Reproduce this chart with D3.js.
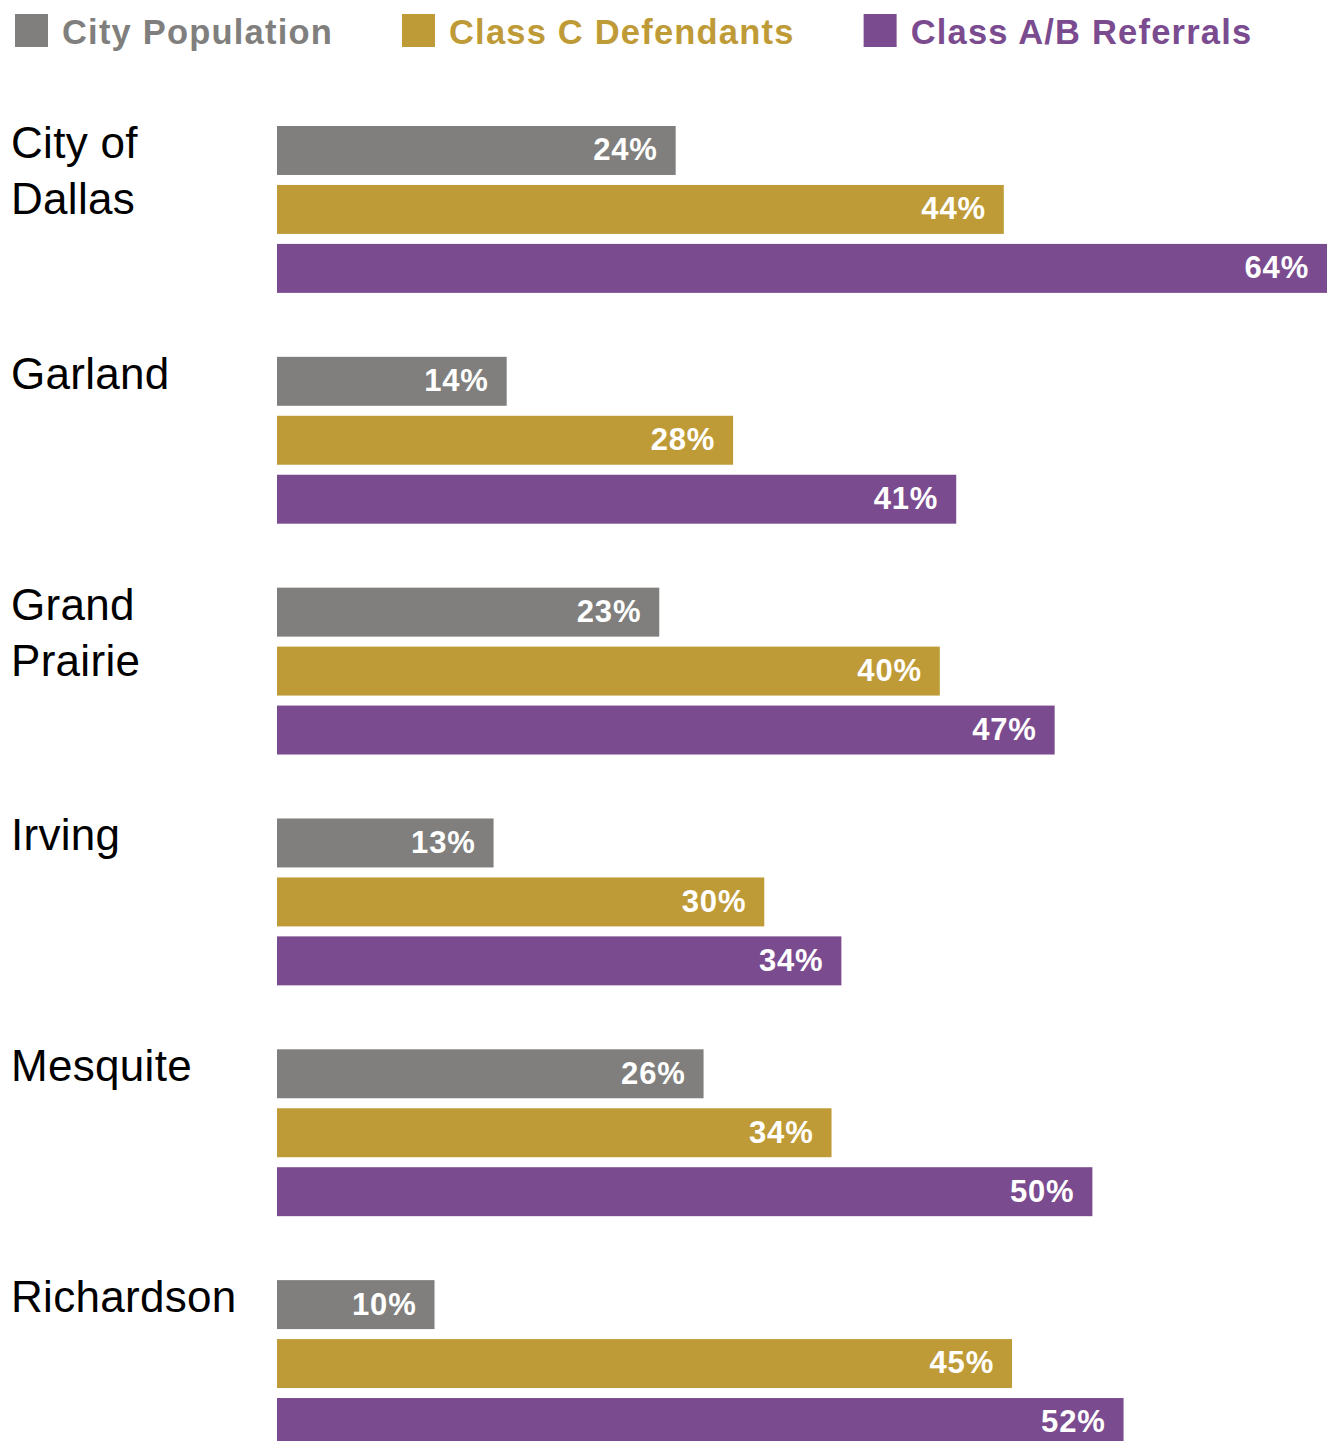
<!DOCTYPE html>
<html>
<head>
<meta charset="utf-8">
<script src="https://cdn.jsdelivr.net/npm/d3@7"></script>
<style>
  body { margin: 0; background: #fff; }
  svg { display: block; }
</style>
</head>
<body>
<div id="chart"></div>
<script>
// data (percent)
const cities = ['City of Dallas', 'Garland', 'Grand Prairie', 'Irving', 'Mesquite', 'Richardson']
const cityLines = [['City of', 'Dallas'], ['Garland'], ['Grand', 'Prairie'], ['Irving'], ['Mesquite'], ['Richardson']]
const seriesNames = ['City Population', 'Class C Defendants', 'Class A/B Referrals']
const seriesColors = ['#807f7d', '#bf9b38', '#7b4b90']
const cityPopulation = [24.3, 14.0, 23.3, 13.2, 26.0, 9.6]
const classCDefendants = [44.3, 27.8, 40.4, 29.7, 33.8, 44.8]
const classABReferrals = [64.0, 41.4, 47.4, 34.4, 49.7, 51.6]

const seriesValues = [cityPopulation, classCDefendants, classABReferrals]

const w = 1327
const h = 1441
const font = '"Liberation Sans", Arial, Helvetica, sans-serif'

const svg = d3.select('#chart').append('svg')
    .attr('width', w)
    .attr('height', h)

// legend
const legend = svg.append('g')
let lx = 15
seriesNames.forEach((name, i) => {
    const g = legend.append('g').attr('transform', `translate(${lx},0)`)
    g.append('rect')
        .attr('x', 0).attr('y', 14)
        .attr('width', 33).attr('height', 33)
        .attr('fill', seriesColors[i])
    const t = g.append('text')
        .attr('x', 47).attr('y', 44)
        .attr('font-family', font)
        .attr('font-weight', 'bold')
        .attr('font-size', 34.5)
        .attr('letter-spacing', 1.2)
        .attr('fill', seriesColors[i])
        .text(name)
    lx += 47 + t.node().getComputedTextLength() + 69
})

// scales
const x = d3.scaleLinear().domain([0, 64]).range([277, 1327])
const y0 = d3.scaleBand().domain(cities).range([126, 1447]).paddingInner(64 / 231)
const y1 = d3.scaleBand().domain(seriesNames).range([0, y0.bandwidth()]).paddingInner(10 / 59)

const groups = svg.selectAll('g.city')
    .data(cities)
    .join('g')
    .attr('class', 'city')
    .attr('transform', (d) => `translate(0,${y0(d)})`)

// city labels
groups.append('text')
    .attr('x', 11)
    .attr('y', 32)
    .attr('font-family', font)
    .attr('font-size', 44)
    .attr('letter-spacing', 0.3)
    .attr('fill', '#000')
    .selectAll('tspan')
    .data((d, i) => cityLines[i])
    .join('tspan')
    .attr('x', 11)
    .attr('dy', (d, i) => (i ? 56 : 0))
    .text((d) => d)

// bars
const bars = groups.selectAll('g.bar')
    .data((d, ci) => seriesNames.map((s, si) => ({ series: s, si, value: seriesValues[si][ci] })))
    .join('g')
    .attr('class', 'bar')

bars.append('rect')
    .attr('x', x(0))
    .attr('y', (d) => y1(d.series))
    .attr('width', (d) => x(d.value) - x(0))
    .attr('height', y1.bandwidth())
    .attr('fill', (d) => seriesColors[d.si])

bars.append('text')
    .attr('x', (d) => x(d.value) - 18)
    .attr('y', (d) => y1(d.series) + y1.bandwidth() / 2)
    .attr('dy', '0.32em')
    .attr('text-anchor', 'end')
    .attr('font-family', font)
    .attr('font-weight', 'bold')
    .attr('font-size', 31)
    .attr('letter-spacing', 0.8)
    .attr('fill', '#fff')
    .text((d) => `${Math.round(d.value)}%`)
</script>
</body>
</html>
